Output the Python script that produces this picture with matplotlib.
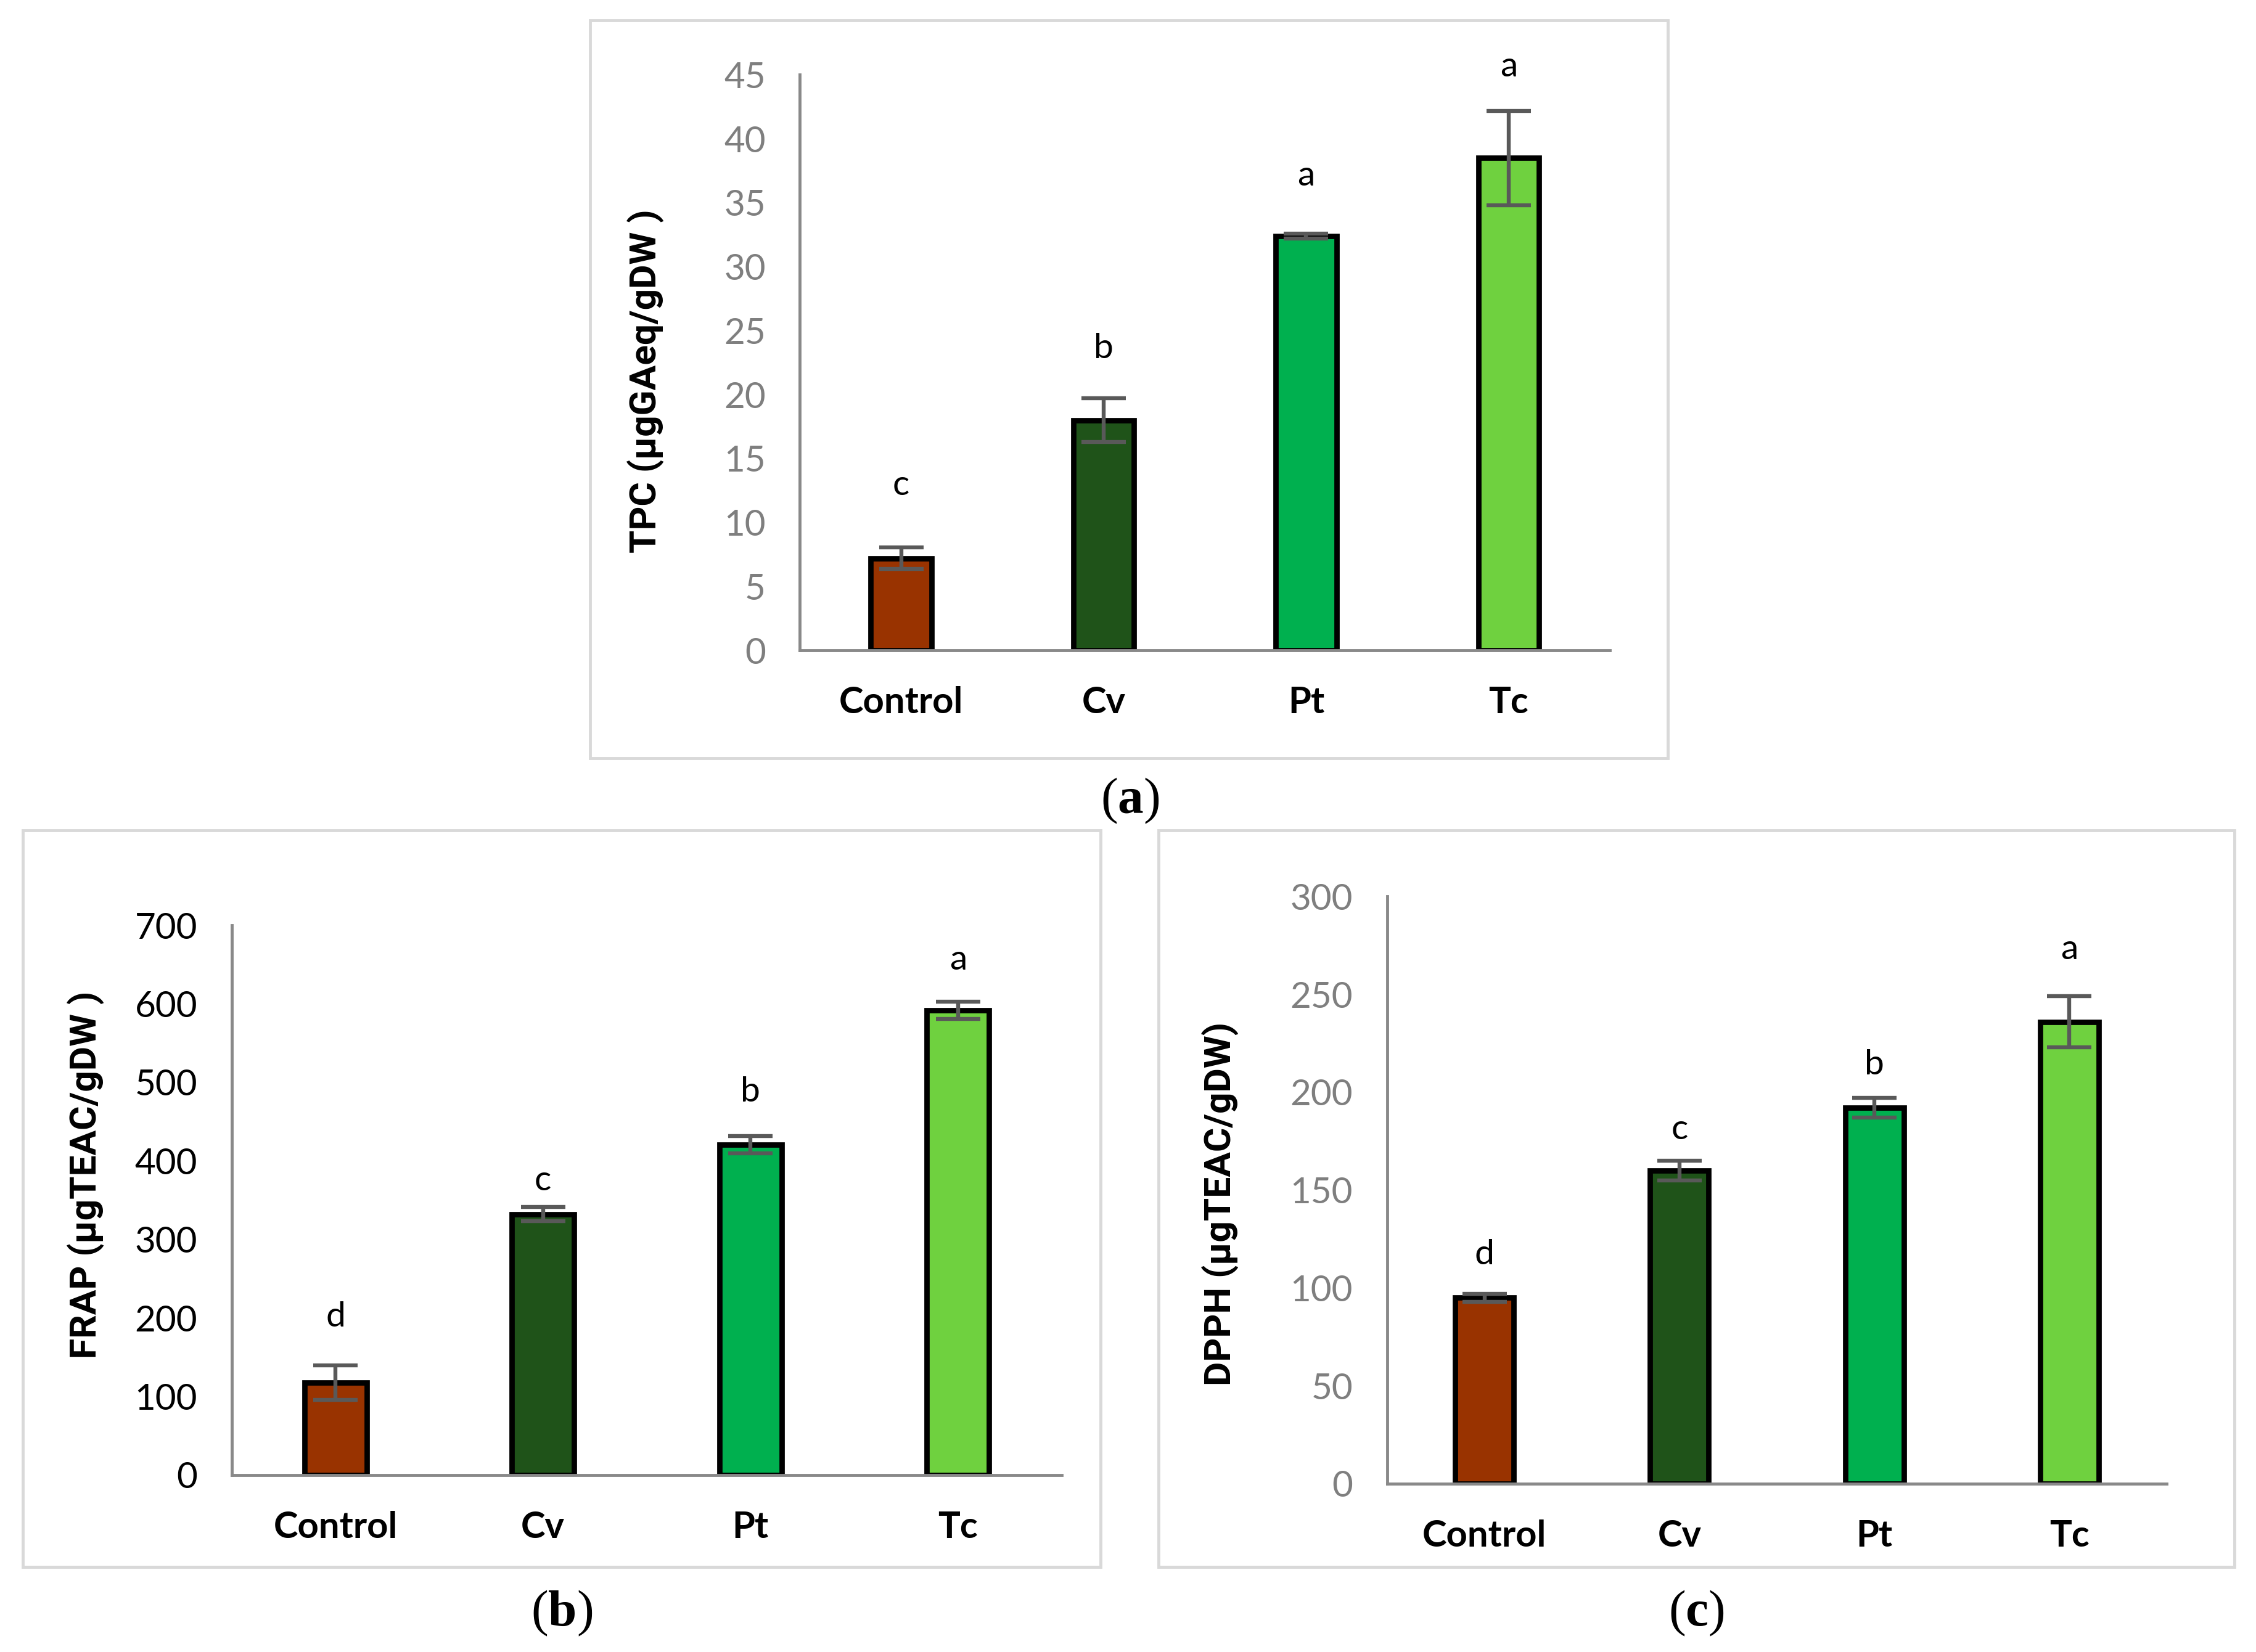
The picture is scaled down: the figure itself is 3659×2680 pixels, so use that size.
import matplotlib
matplotlib.use("Agg")
import matplotlib.pyplot as plt
from matplotlib.patches import Rectangle

# ---------------- data ----------------
categories = ["Control", "Cv", "Pt", "Tc"]

tpc_values = [7.2, 18.0, 32.4, 38.5]
tpc_errors = [0.85, 1.7, 0.2, 3.7]
tpc_letters = ["c", "b", "a", "a"]
tpc_letter_y = [12.9, 23.6, 37.1, 45.6]

frap_values = [118, 332, 421, 592]
frap_errors = [22, 9, 11, 11]
frap_letters = ["d", "c", "b", "a"]
frap_letter_y = [201, 375, 488, 656]

dpph_values = [95, 160, 192, 236]
dpph_errors = [2, 5, 5, 13]
dpph_letters = ["d", "c", "b", "a"]
dpph_letter_y = [117, 181, 214, 273]

bar_colors = ["#993300", "#1F5319", "#00B04F", "#6FD13F"]

# ---------------- style ----------------
plt.rcParams["mathtext.fontset"] = "custom"
plt.rcParams["mathtext.rm"] = "Liberation Serif"
plt.rcParams["mathtext.bf"] = "Liberation Serif:bold"

W, H = 3659, 2680
fig = plt.figure(figsize=(W / 100, H / 100), dpi=100)
fig.patch.set_facecolor("white")

SPINE = "#898989"
ERR = "#595959"


def frame(l, b, r, t):
    fig.patches.append(Rectangle((l, b), r - l, t - b, transform=fig.transFigure,
                                 fill=False, edgecolor="#D9D9D9", linewidth=3.5))


def panel(rect, values, errors, letters, letter_y, ymax, ystep, ylabel,
          ylabel_xy, tick_color):
    ax = fig.add_axes(rect)
    x = list(range(len(categories)))
    ax.bar(x, values, width=0.30, color=bar_colors, edgecolor="black",
           linewidth=6.3, zorder=2)
    ax.errorbar(x, values, yerr=errors, fmt="none", ecolor=ERR,
                elinewidth=4.6, capsize=26, capthick=4.6, zorder=3)
    for xi, lt, ly in zip(x, letters, letter_y):
        ax.text(xi, ly, lt, ha="center", va="center", fontsize=41,
                family="Lato", color="black")
    ax.set_xlim(-0.5, len(categories) - 0.5)
    ax.set_ylim(0, ymax)
    ticks = list(range(0, ymax + 1, ystep))
    ax.set_yticks(ticks)
    ax.set_yticklabels([str(t) for t in ticks], family="Lato", fontsize=42,
                       color=tick_color)
    ax.set_xticks(x)
    ax.set_xticklabels(categories, family="Lato", fontweight="bold",
                       fontsize=43, color="black")
    ax.tick_params(axis="both", length=0)
    ax.tick_params(axis="y", pad=40)
    ax.tick_params(axis="x", pad=42)
    for s in ["top", "right"]:
        ax.spines[s].set_visible(False)
    for s in ["left", "bottom"]:
        ax.spines[s].set_color(SPINE)
        ax.spines[s].set_linewidth(3.5)
        ax.spines[s].set_zorder(4)
    ax.set_facecolor("none")
    fig.text(ylabel_xy[0], ylabel_xy[1], ylabel, rotation=90, ha="center",
             va="center", family="Roboto", fontweight="bold", fontsize=43.5,
             color="black")
    return ax


# panel (a)
frame(0.2615, 0.5409, 0.7392, 0.9878)
panel([0.3546, 0.6063, 0.7136 - 0.3546, 0.9547 - 0.6063], tpc_values,
      tpc_errors, tpc_letters, tpc_letter_y, 45, 5, "TPC (µgGAeq/gDW )",
      (0.2864, 0.7692), "#7F7F7F")

# panel (b)
frame(0.0102, 0.0514, 0.4879, 0.4974)
panel([0.1027, 0.1071, 0.4707 - 0.1027, 0.4399 - 0.1071], frap_values,
      frap_errors, frap_letters, frap_letter_y, 700, 100,
      "FRAP (µgTEAC/gDW )", (0.0383, 0.289), "black")

# panel (c)
frame(0.5134, 0.0514, 0.9904, 0.4974)
panel([0.6148, 0.1019, 0.9605 - 0.6148, 0.4573 - 0.1019], dpph_values,
      dpph_errors, dpph_letters, dpph_letter_y, 300, 50,
      "DPPH (µgTEAC/gDW)", (0.541, 0.2713), "#7F7F7F")

# captions
for cx, cy, lt in [(0.501, 0.515, "a"), (0.249, 0.0235, "b"), (0.752, 0.0235, "c")]:
    fig.text(cx, cy, r"($\mathbf{%s}$)" % lt, ha="center", va="center",
             family="Liberation Serif", fontsize=60, color="black")

fig.savefig("out.png", dpi=100)
